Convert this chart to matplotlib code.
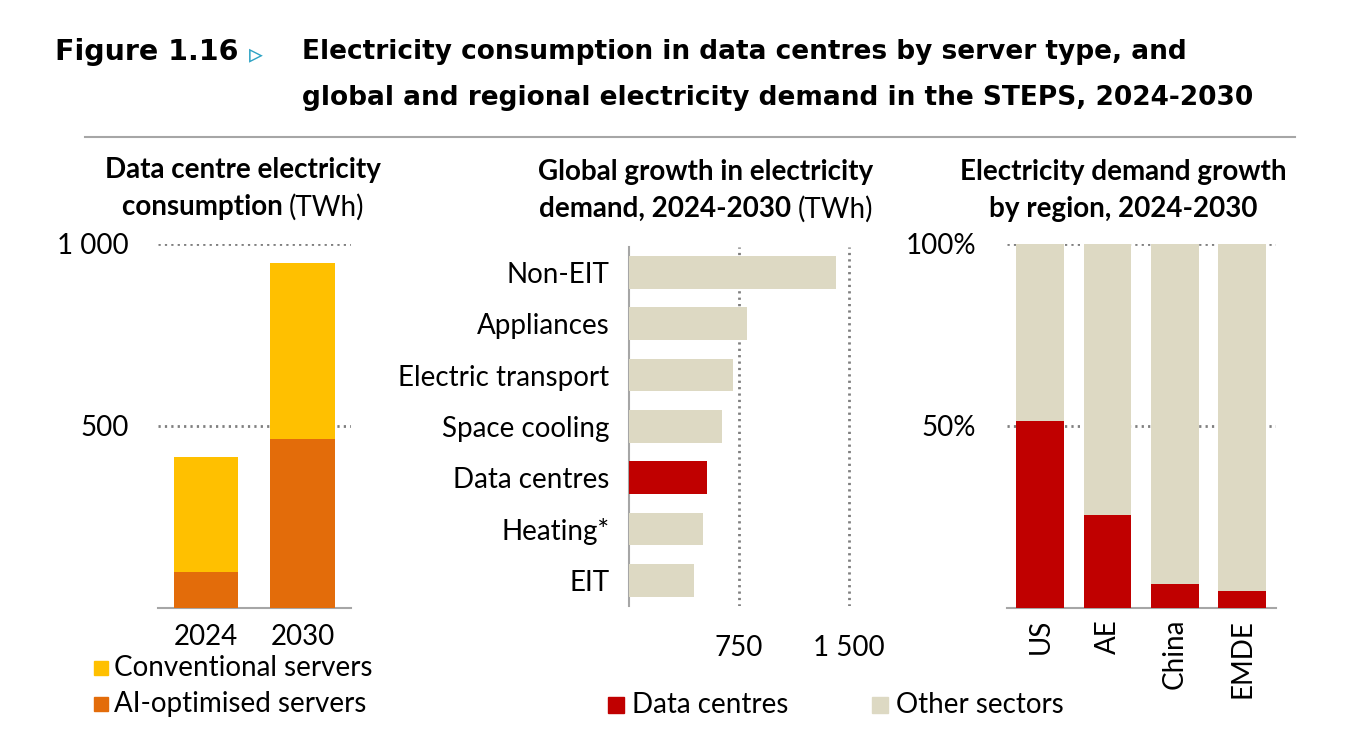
import matplotlib
matplotlib.use("Agg")
import matplotlib.pyplot as plt
from matplotlib.patches import Rectangle
from matplotlib.lines import Line2D

plt.rcParams['font.family'] = ['Lato', 'DejaVu Sans']

# Data centre electricity consumption (TWh)
years = ["2024", "2030"]
ai_servers = [97, 463]
conv_servers = [318, 484]

# Global growth in electricity demand 2024-2030 (TWh)
sectors = ["Non-EIT", "Appliances", "Electric transport", "Space cooling",
           "Data centres", "Heating*", "EIT"]
growth = [1415, 807, 709, 636, 532, 505, 447]

# Share of demand growth by region
regions = ["US", "AE", "China", "EMDE"]
dc_share = [0.513, 0.255, 0.065, 0.046]

YELLOW = "#FFC000"
ORANGE = "#E36C0A"
RED = "#C00000"
BEIGE = "#DDD9C3"
GRID = "#7F7F7F"
AXIS = "#A6A6A6"

W, H = 1366, 742
fig = plt.figure(figsize=(W / 100, H / 100), dpi=100)
renderer = fig.canvas.get_renderer()

tick_fs = 20
sub_fs = 20
dots = (0, (0.8, 1.5))
grid_lw = 2


def box(x0, y0, x1, y1):
    # pixel coords (top-left origin) -> figure fraction
    return [x0 / W, 1 - y1 / H, (x1 - x0) / W, (y1 - y0) / H]


def two_part(xc, y, bold_txt, reg_txt):
    # bold + regular text on one line, centred on xc (pixels)
    t1 = fig.text(0, 1 - y / H, bold_txt, fontsize=sub_fs, fontweight="bold",
                  ha="left", va="center")
    t2 = fig.text(0, 1 - y / H, reg_txt, fontsize=sub_fs,
                  ha="left", va="center")
    w1 = t1.get_window_extent(renderer).width
    w2 = t2.get_window_extent(renderer).width
    x0 = xc - (w1 + w2) / 2
    t1.set_x(x0 / W)
    t2.set_x((x0 + w1) / W)


# Titles
fig.text(55 / W, 1 - 52 / H, "Figure 1.16", fontsize=20.5, fontweight="heavy",
         family="DejaVu Sans", va="center", ha="left")
fig.text(249 / W, 1 - 54 / H, "\u25B9", fontsize=20, color="#2EA3C4",
         family="DejaVu Sans", va="center", ha="left")
fig.text(302 / W, 1 - 52 / H,
         "Electricity consumption in data centres by server type, and",
         fontsize=19, fontweight="bold", family="DejaVu Sans",
         va="center", ha="left")
fig.text(302 / W, 1 - 98 / H,
         "global and regional electricity demand in the STEPS, 2024-2030",
         fontsize=19, fontweight="bold", family="DejaVu Sans",
         va="center", ha="left")
fig.add_artist(Line2D([85 / W, 1295 / W], [1 - 137 / H, 1 - 137 / H],
                      color="#A6A6A6", lw=1.5))

# Panel 1
ax1 = fig.add_axes(box(157.7, 244, 350.7, 607.7))
x = range(len(years))
ax1.bar(x, ai_servers, width=0.67, color=ORANGE, zorder=3)
ax1.bar(x, conv_servers, width=0.67, bottom=ai_servers, color=YELLOW, zorder=3)
ax1.set_xlim(-0.5, 1.5)
ax1.set_ylim(0, 1000)
ax1.set_yticks([500, 1000])
ax1.set_yticklabels(["500", "1 000"])
ax1.set_xticks(list(x))
ax1.set_xticklabels(years)
ax1.tick_params(axis="y", length=0, pad=21, labelsize=tick_fs)
ax1.tick_params(axis="x", length=0, pad=12, labelsize=tick_fs)
ax1.grid(axis="y", linestyle=dots, color=GRID, lw=grid_lw, zorder=1)
for s in ["top", "right", "left"]:
    ax1.spines[s].set_visible(False)
ax1.spines["bottom"].set_color(AXIS)
ax1.spines["bottom"].set_linewidth(1.5)
fig.text(243 / W, 1 - 170 / H, "Data centre electricity", fontsize=sub_fs,
         fontweight="bold", ha="center", va="center")
two_part(243, 207, "consumption ", "(TWh)")

# Panel 1 legend
for yy, c, lab in [(668, YELLOW, "Conventional servers"),
                   (704, ORANGE, "AI-optimised servers")]:
    fig.add_artist(Rectangle((94 / W, 1 - (yy + 7) / H), 14 / W, 14 / H,
                             color=c, transform=fig.transFigure))
    fig.text(114 / W, 1 - yy / H, lab, fontsize=tick_fs, va="center", ha="left")

# Panel 2
ax2 = fig.add_axes(box(628.7, 246.7, 863.4, 606))
ypos = range(len(sectors))
cols = [RED if s == "Data centres" else BEIGE for s in sectors]
ax2.barh(ypos, growth, height=0.64, color=cols, zorder=3)
ax2.set_ylim(len(sectors) - 0.5, -0.5)
ax2.set_xlim(0, 1600)
ax2.set_yticks(list(ypos))
ax2.set_yticklabels(sectors)
ax2.set_xticks([750, 1500])
ax2.set_xticklabels(["750", "1 500"])
ax2.tick_params(axis="y", length=0, pad=14, labelsize=tick_fs)
ax2.tick_params(axis="x", length=0, pad=21, labelsize=tick_fs)
ax2.grid(axis="x", linestyle=dots, color=GRID, lw=grid_lw, zorder=1)
for s in ["top", "right", "bottom"]:
    ax2.spines[s].set_visible(False)
ax2.spines["left"].set_color(AXIS)
ax2.spines["left"].set_linewidth(1.5)
fig.text(706 / W, 1 - 172 / H, "Global growth in electricity", fontsize=sub_fs,
         fontweight="bold", ha="center", va="center")
two_part(706, 209, "demand, 2024-2030 ", "(TWh)")

# Panel 3
ax3 = fig.add_axes(box(1006.7, 244, 1275.7, 607.7))
xr = range(len(regions))
other = [1 - v for v in dc_share]
ax3.bar(xr, dc_share, width=0.71, color=RED, zorder=3)
ax3.bar(xr, other, width=0.71, bottom=dc_share, color=BEIGE, zorder=3)
ax3.set_xlim(-0.5, 3.5)
ax3.set_ylim(0, 1)
ax3.set_yticks([0.5, 1.0])
ax3.set_yticklabels(["50%", "100%"])
ax3.set_xticks(list(xr))
ax3.set_xticklabels(regions, rotation=90)
ax3.tick_params(axis="y", length=0, pad=22, labelsize=tick_fs)
ax3.tick_params(axis="x", length=0, pad=8, labelsize=tick_fs)
ax3.grid(axis="y", linestyle=dots, color=GRID, lw=grid_lw, zorder=1)
for s in ["top", "right", "left"]:
    ax3.spines[s].set_visible(False)
ax3.spines["bottom"].set_color(AXIS)
ax3.spines["bottom"].set_linewidth(1.5)
fig.text(1123 / W, 1 - 172 / H, "Electricity demand growth", fontsize=sub_fs,
         fontweight="bold", ha="center", va="center")
fig.text(1123 / W, 1 - 209 / H, "by region, 2024-2030", fontsize=sub_fs,
         fontweight="bold", ha="center", va="center")

# Shared legend
for x0, c, lab in [(608, RED, "Data centres"), (872, BEIGE, "Other sectors")]:
    fig.add_artist(Rectangle((x0 / W, 1 - 713 / H), 16 / W, 16 / H,
                             color=c, transform=fig.transFigure))
    fig.text((x0 + 24) / W, 1 - 705 / H, lab, fontsize=tick_fs,
             va="center", ha="left")

fig.savefig("out.png", dpi=100)
